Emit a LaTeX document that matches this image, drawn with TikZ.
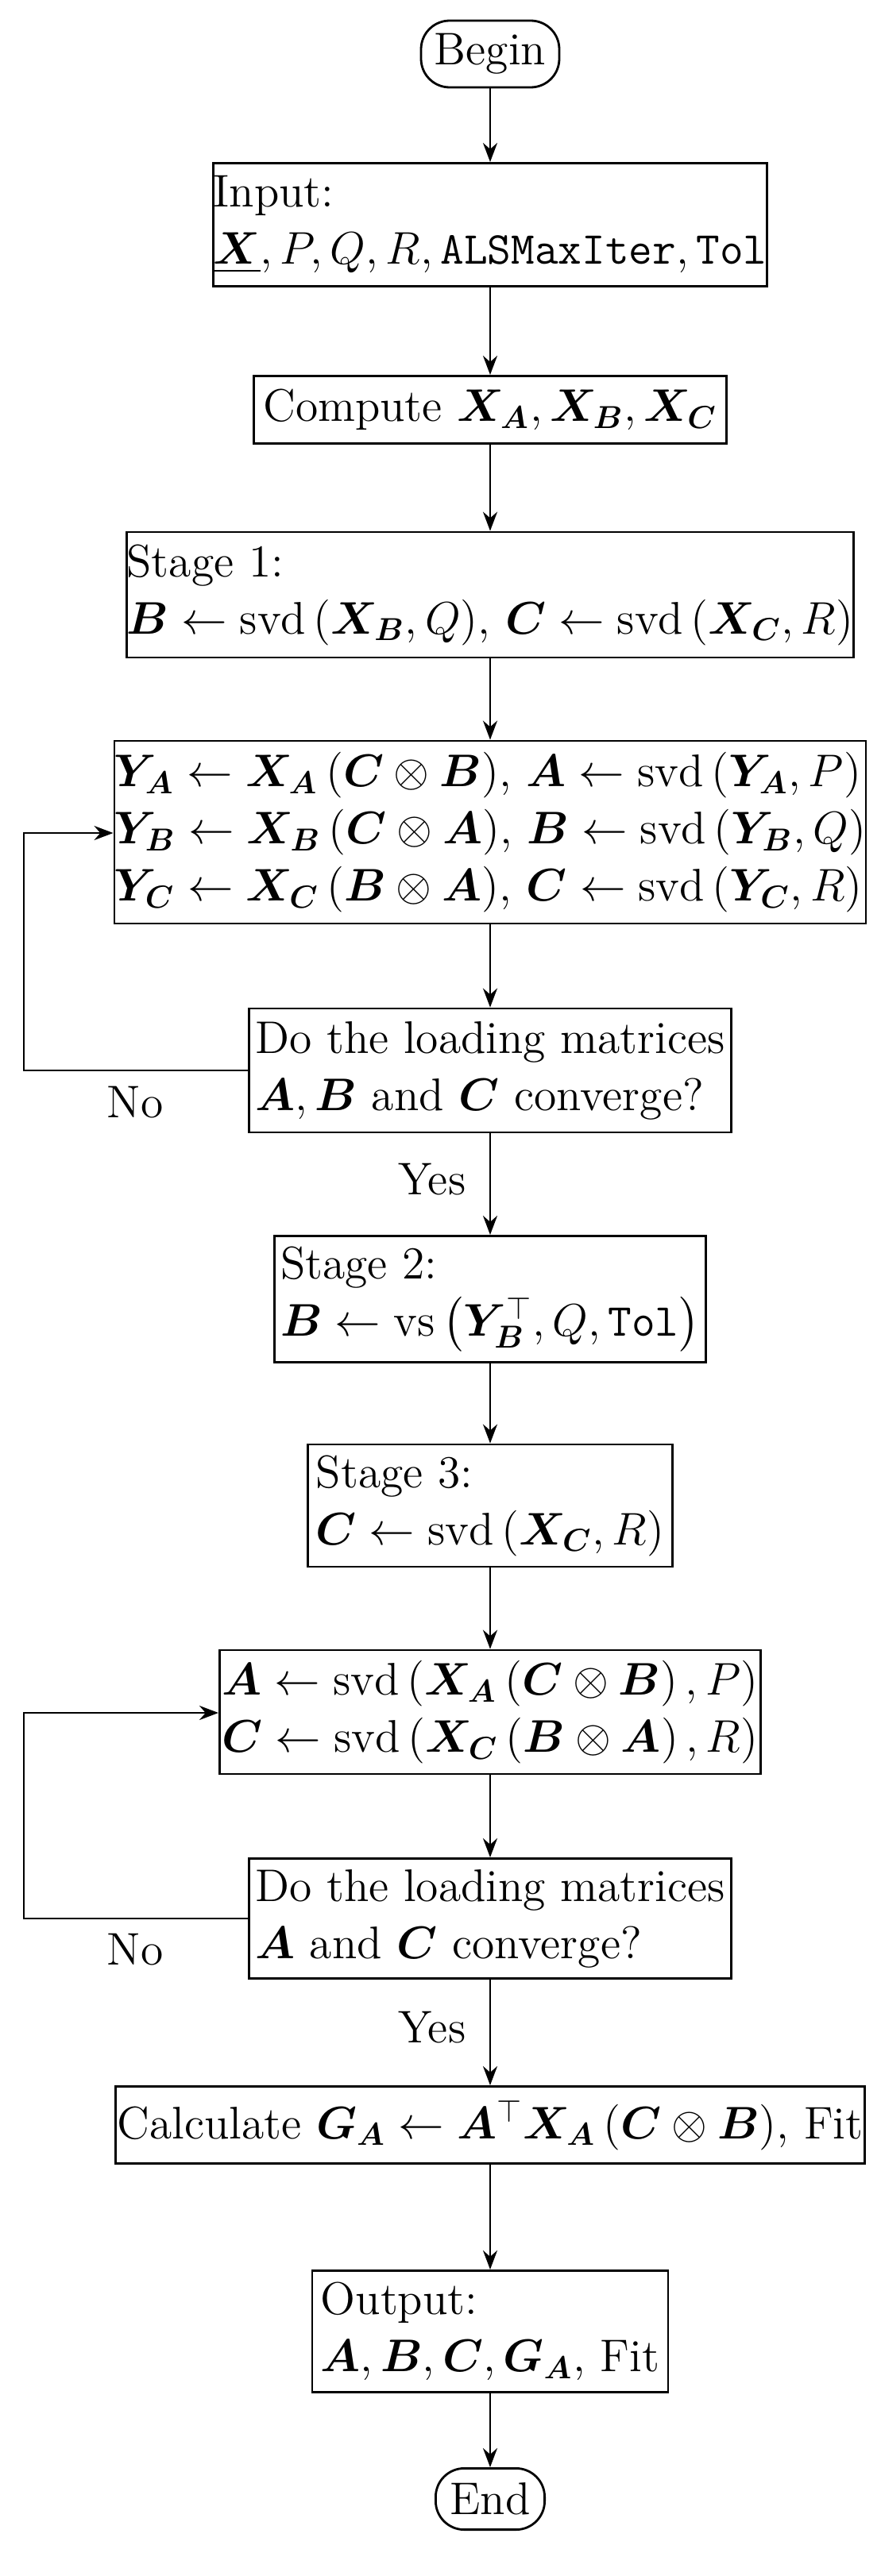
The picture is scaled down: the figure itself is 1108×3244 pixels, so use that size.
\documentclass[tikz,border=0pt]{standalone}
\usepackage{amsmath,amssymb,bm}
\usetikzlibrary{arrows.meta}
\DeclareMathOperator{\svd}{svd}
\DeclareMathOperator{\vs}{vs}
\begin{document}
\begin{tikzpicture}[x=0.25pt,y=-0.25pt,
  box/.style={draw,line width=0.7pt,align=left,font=\Large,inner sep=0pt},
  term/.style={box,rounded corners=9pt},
  arr/.style={-{Stealth[length=6pt,width=4.5pt]},line width=0.7pt},
  lbl/.style={font=\Large}]
\useasboundingbox (0,0) rectangle (1108,3244);
\node[term,minimum width=43.5pt,minimum height=21pt] (begin) at (617,68) {Begin};
\node[box,minimum width=173pt,minimum height=38.8pt] (input) at (617,283) {Input:\\$\underline{\bm X}, P, Q, R, \texttt{ALSMaxIter}, \texttt{Tol}$};
\node[box,minimum width=148.8pt,minimum height=21.3pt] (comp) at (617,516) {Compute $\bm X_{\bm A}, \bm X_{\bm B}, \bm X_{\bm C}$};
\node[box,minimum width=228.3pt,minimum height=39.5pt] (s1) at (617,749) {Stage 1:\\$\bm B \leftarrow \svd\left(\bm X_{\bm B}, Q\right)$, $\bm C \leftarrow \svd\left(\bm X_{\bm C}, R\right)$};
\node[box,minimum width=236.3pt,minimum height=57.5pt] (loop1) at (617,1048) {$\bm Y_{\bm A} \leftarrow \bm X_{\bm A}\left(\bm C\otimes \bm B\right)$, $\bm A \leftarrow \svd\left(\bm Y_{\bm A}, P\right)$\\$\bm Y_{\bm B} \leftarrow \bm X_{\bm B}\left(\bm C\otimes \bm A\right)$, $\bm B \leftarrow \svd\left(\bm Y_{\bm B}, Q\right)$\\$\bm Y_{\bm C} \leftarrow \bm X_{\bm C}\left(\bm B\otimes \bm A\right)$, $\bm C \leftarrow \svd\left(\bm Y_{\bm C}, R\right)$};
\node[box,minimum width=151.8pt,minimum height=39pt] (d1) at (617,1348) {Do the loading matrices\\$\bm A, \bm B$ and $\bm C$ converge?};
\node[box,minimum width=135.8pt,minimum height=39.8pt] (s2) at (617,1636) {Stage 2:\\$\bm B \leftarrow \vs\left(\bm Y_{\bm B}^{\top}, Q, \texttt{Tol}\right)$};
\node[box,minimum width=114.8pt,minimum height=38.5pt] (s3) at (617,1896) {Stage 3:\\$\bm C \leftarrow \svd\left(\bm X_{\bm C}, R\right)$};
\node[box,minimum width=170.3pt,minimum height=39pt] (loop2) at (617,2156) {$\bm A \leftarrow \svd\left(\bm X_{\bm A}\left(\bm C\otimes \bm B\right), P\right)$\\$\bm C \leftarrow \svd\left(\bm X_{\bm C}\left(\bm B\otimes \bm A\right), R\right)$};
\node[box,minimum width=151.8pt,minimum height=37.8pt] (d2) at (617,2416) {Do the loading matrices\\$\bm A$ and $\bm C$ converge?};
\node[box,minimum width=235.8pt,minimum height=24.3pt] (calc) at (617,2676) {Calculate $\bm G_{\bm A} \leftarrow \bm A^{\top}\bm X_{\bm A}\left(\bm C\otimes \bm B\right)$, Fit};
\node[box,minimum width=112pt,minimum height=38.3pt] (out) at (617,2936) {Output:\\$\bm A, \bm B, \bm C, \bm G_{\bm A}$, Fit};
\node[term,minimum width=34.3pt,minimum height=19.3pt] (end) at (617,3147) {End};
\draw[arr] (begin) -- (input);
\draw[arr] (input) -- (comp);
\draw[arr] (comp) -- (s1);
\draw[arr] (s1) -- (loop1);
\draw[arr] (loop1) -- (d1);
\draw[arr] (d1) -- node[lbl,left=4pt,pos=0.45] (y1) {Yes} (s2);
\draw[arr] (s2) -- (s3);
\draw[arr] (s3) -- (loop2);
\draw[arr] (loop2) -- (d2);
\draw[arr] (d2) -- node[lbl,left=4pt,pos=0.45] (y2) {Yes} (calc);
\draw[arr] (calc) -- (out);
\draw[arr] (out) -- (end);
\coordinate (c1a) at (30,1348);
\coordinate (c1b) at (30,1049);
\draw[arr] (d1.west) -- (c1a) -- (c1b) -- (loop1.west |- c1b);
\node[lbl] (n1) at (170,1388) {No};
\coordinate (c2a) at (30,2416);
\coordinate (c2b) at (30,2157);
\draw[arr] (d2.west) -- (c2a) -- (c2b) -- (loop2.west |- c2b);
\node[lbl] (n2) at (170,2455) {No};
\end{tikzpicture}
\end{document}
